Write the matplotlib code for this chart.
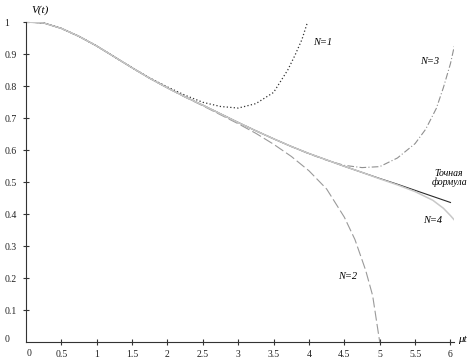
import numpy as np
import matplotlib
matplotlib.use("Agg")
import matplotlib.pyplot as plt

plt.rcParams['font.family'] = ['Liberation Serif', 'DejaVu Serif']

# значения
t_exact = [0, 0.25, 0.5, 0.75, 1.0, 1.25, 1.5, 1.75, 2.0, 2.25, 2.5, 2.75, 3.0,
           3.25, 3.5, 3.75, 4.0, 4.25, 4.5, 4.75, 5.0, 5.25, 5.5, 5.75, 6.0]
v_exact = [1.0, 0.997, 0.98, 0.955, 0.925, 0.891, 0.857, 0.824, 0.794, 0.766, 0.740,
           0.713, 0.686, 0.660, 0.635, 0.611, 0.589, 0.569, 0.549, 0.530, 0.511,
           0.493, 0.474, 0.455, 0.436]

t_n1 = [0, 0.25, 0.5, 0.75, 1.0, 1.25, 1.5, 1.75, 2.0, 2.25, 2.5, 2.75, 3.0, 3.25,
        3.5, 3.6, 3.7, 3.8, 3.9, 3.98]
v_n1 = [1.0, 0.997, 0.98, 0.955, 0.925, 0.891, 0.857, 0.825, 0.797, 0.771, 0.749,
        0.736, 0.731, 0.745, 0.78, 0.815, 0.85, 0.895, 0.945, 1.0]

t_n2 = [0, 0.25, 0.5, 0.75, 1.0, 1.25, 1.5, 1.75, 2.0, 2.25, 2.5, 2.75, 3.0, 3.25,
        3.5, 3.75, 4.0, 4.25, 4.5, 4.65, 4.8, 4.9, 5.0]
v_n2 = [1.0, 0.997, 0.98, 0.955, 0.925, 0.891, 0.857, 0.824, 0.794, 0.765, 0.738,
        0.710, 0.682, 0.652, 0.618, 0.58, 0.535, 0.478, 0.39, 0.32, 0.225, 0.145, 0.0]

t_n3 = [0, 0.25, 0.5, 0.75, 1.0, 1.25, 1.5, 1.75, 2.0, 2.25, 2.5, 2.75, 3.0, 3.25,
        3.5, 3.75, 4.0, 4.25, 4.5, 4.75, 5.0, 5.25, 5.5, 5.65, 5.8, 5.9, 6.0, 6.06]
v_n3 = [1.0, 0.997, 0.98, 0.955, 0.925, 0.891, 0.857, 0.824, 0.794, 0.766, 0.740,
        0.713, 0.686, 0.660, 0.635, 0.611, 0.588, 0.568, 0.552, 0.545, 0.548, 0.575,
        0.62, 0.665, 0.73, 0.795, 0.87, 0.93]

t_n4 = [0, 0.25, 0.5, 0.75, 1.0, 1.25, 1.5, 1.75, 2.0, 2.25, 2.5, 2.75, 3.0, 3.25,
        3.5, 3.75, 4.0, 4.25, 4.5, 4.75, 5.0, 5.25, 5.5, 5.75, 5.9, 6.0, 6.06]
v_n4 = [1.0, 0.997, 0.98, 0.955, 0.925, 0.891, 0.857, 0.824, 0.794, 0.766, 0.740,
        0.713, 0.686, 0.660, 0.635, 0.611, 0.589, 0.569, 0.549, 0.530, 0.510, 0.491,
        0.470, 0.443, 0.418, 0.395, 0.38]

x_ticks = [0.5, 1, 1.5, 2, 2.5, 3, 3.5, 4, 4.5, 5, 5.5, 6]
x_labels = ["0.5", "1", "1.5", "2", "2.5", "3", "3.5", "4", "4.5", "5", "5.5", "6"]
y_ticks = [0.1, 0.2, 0.3, 0.4, 0.5, 0.6, 0.7, 0.8, 0.9, 1.0]
y_labels = ["0.1", "0.2", "0.3", "0.4", "0.5", "0.6", "0.7", "0.8", "0.9", "1"]

fig = plt.figure(figsize=(4.7, 3.63), dpi=100)
ax = fig.add_axes([26/470, 21/363, 428/470, 320/363])

ax.plot(t_exact, v_exact, color='#2a2a2a', lw=0.8)
ax.plot(t_n3, v_n3, color='#909090', lw=0.8, dashes=(6, 2, 1, 2))
ax.plot(t_n2, v_n2, color='#9a9a9a', lw=0.8, dashes=(9, 3))
ax.plot(t_n1, v_n1, color='#333333', lw=0.9, dashes=(1, 1.8))
# N=4 поверх остальных: на общем участке кривая выглядит светлой
ax.plot(t_n4, v_n4, color='#c8c8c8', lw=1.1)

ax.set_xlim(0, 6.05)
ax.set_ylim(0, 1.0)
for s in ['top', 'right']:
    ax.spines[s].set_visible(False)
for s in ['left', 'bottom']:
    ax.spines[s].set_color('#333333')
    ax.spines[s].set_linewidth(0.8)

ax.set_xticks(x_ticks)
ax.set_xticklabels(x_labels)
ax.set_yticks(y_ticks)
ax.set_yticklabels(y_labels, ha='left')
ax.tick_params(direction='inout', length=5, width=0.8, color='#333333',
               labelsize=7, labelcolor='#222222')
ax.tick_params(axis='x', pad=3.5)
ax.tick_params(axis='y', pad=13)

# нули у начала координат
fig.text(5/470, 1 - 340/363, "0", fontsize=7, color='#222222', va='center', ha='left')
fig.text(29/470, 1 - 354/363, "0", fontsize=7, color='#222222', va='center', ha='center')

# подписи осей
fig.text(40/470, 1 - 10/363, "V(t)", fontsize=8, style='italic', ha='center', va='center')
fig.text(462/470, 1 - 340/363, "μt", fontsize=8, style='italic', ha='center', va='center')

# подписи кривых
ax.text(4.2, 0.935, "N=1", fontsize=7.5, style='italic', ha='center', va='center')
ax.text(5.71, 0.875, "N=3", fontsize=7.5, style='italic', ha='center', va='center')
ax.text(4.55, 0.205, "N=2", fontsize=7.5, style='italic', ha='center', va='center')
ax.text(5.75, 0.38, "N=4", fontsize=7.5, style='italic', ha='center', va='center')
ax.text(5.97, 0.525, "Точная", fontsize=7, style='italic', ha='center', va='center')
ax.text(5.99, 0.498, "формула", fontsize=7, style='italic', ha='center', va='center')

fig.savefig("out.png", dpi=100)
